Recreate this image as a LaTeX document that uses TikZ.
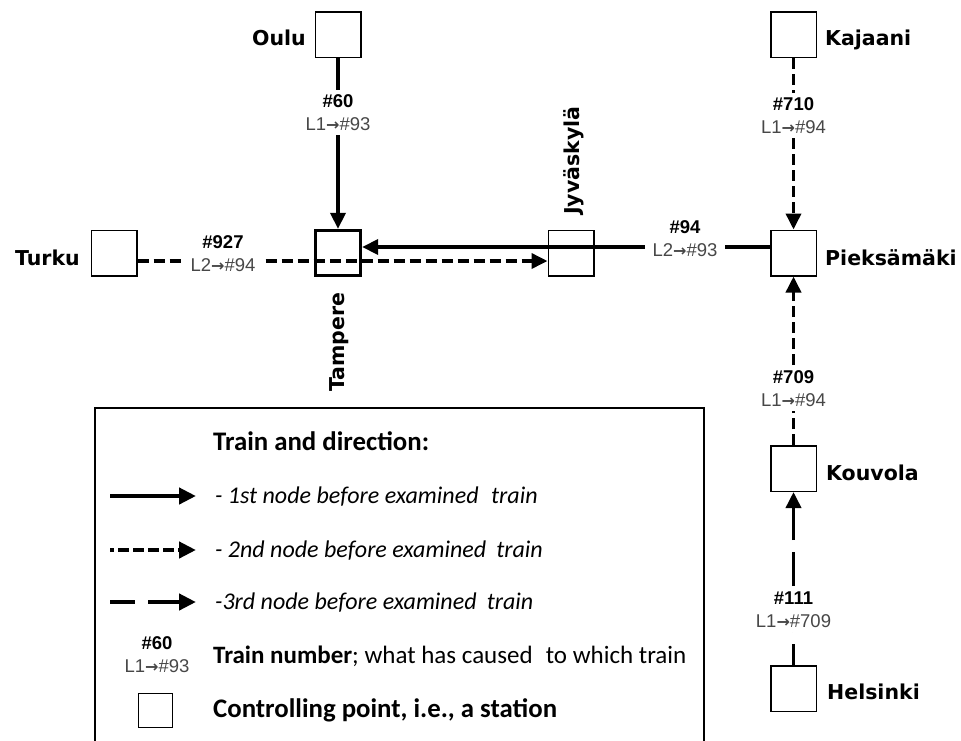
\documentclass[tikz,border=0pt]{standalone}
\usepackage{fontspec}
\setmainfont{Carlito}
\newfontfamily\stationfont{DejaVu Sans}
\newfontfamily\trainfont{Liberation Sans}
\usetikzlibrary{arrows.meta}
\tikzset{
  stn/.style={draw, line width=1.5pt, minimum size=45.5pt, inner sep=0pt, fill=white},
  stnthick/.style={stn, line width=3.3pt, minimum size=45pt},
  stnlabel/.style={font=\stationfont\bfseries\fontsize{20.5}{24}\selectfont, inner sep=0pt},
  trainlbl/.style={fill=white, align=center, inner xsep=8pt, inner ysep=4pt,
    font=\trainfont\fontsize{18.5}{23}\selectfont, text=black!72},
  trainline/.style={line width=3.6pt},
  arrowhd/.style={-{Triangle[length=16pt,width=15pt]}},
  dashtwo/.style={dash pattern=on 11pt off 5pt},
  dashthree/.style={dash pattern=on 34pt off 12pt, dash phase=13pt},
  legline/.style={line width=4.5pt, -{Triangle[length=17pt,width=16pt]}},
  legtext/.style={anchor=base west, inner sep=0pt, font=\fontsize{24}{28}\selectfont},
  legbold/.style={legtext, font=\bfseries\fontsize{26.8}{30}\selectfont},
}
\newcommand{\trn}[2]{{\bfseries\color{black}\##1}\\L#2}
\newcommand{\rarr}{{\stationfont\bfseries\fontsize{16}{20}\selectfont →}}
\begin{document}
\begin{tikzpicture}[x=1pt,y=-1pt]
\useasboundingbox (0,0) rectangle (961,740);

% stations
\node[stn] (oulu) at (338,34.5) {};
\node[stn] (kaj) at (793.5,34.5) {};
\node[stn] (turku) at (114,253) {};
\node[stn] (jyv) at (571,253) {};
\node[stn] (piek) at (793.5,253) {};
\node[stn] (kouv) at (793.5,468.5) {};
\node[stn] (hel) at (793.5,688.5) {};

% station names
\node[stnlabel, anchor=base east] (oulut) at (306,45) {Oulu};
\node[stnlabel, anchor=base west] (kajt) at (825,45) {Kajaani};
\node[stnlabel, anchor=base east] (turkut) at (80,265) {Turku};
\node[stnlabel, anchor=base west] (piekt) at (825,265) {Pieksämäki};
\node[stnlabel, anchor=base west] (kouvt) at (826,480) {Kouvola};
\node[stnlabel, anchor=base west] (helt) at (827,699) {Helsinki};
\node[stnlabel, anchor=base west, rotate=90] (tampt) at (344,392) {Tampere};
\node[stnlabel, anchor=base west, rotate=90] (jyvt) at (579,215) {Jyväskylä};

% connectors
\draw[trainline, dashtwo, arrowhd] ([yshift=-8pt]turku.east) -- ([yshift=-8pt]jyv.west);
\node[stnthick] (tamp) at (338,253) {};
\draw[trainline, dashtwo] ([yshift=-8pt]tamp.west) -- ([yshift=-8pt]tamp.east);
\draw[trainline, arrowhd] (oulu) -- (tamp);
\draw[trainline, arrowhd] ([yshift=6pt]piek.west) -- ([yshift=6pt]tamp.east);
\draw[trainline, dashtwo, arrowhd] (kaj) -- (piek);
\draw[trainline, dashtwo, arrowhd] (kouv) -- (piek);
\draw[trainline, dashthree, arrowhd] (hel) -- (kouv);

% train labels
\node[trainlbl] (l60) at (338,112.5) {\trn{60}{1\rarr\#93}};
\node[trainlbl] (l927) at (223,253.5) {\trn{927}{2\rarr\#94}};
\node[trainlbl] (l94) at (685,238.5) {\trn{94}{2\rarr\#93}};
\node[trainlbl] (l710) at (793.5,115.5) {\trn{710}{1\rarr\#94}};
\node[trainlbl] (l709) at (793.5,389) {\trn{709}{1\rarr\#94}};
\node[trainlbl] (l111) at (793.5,610) {\trn{111}{1\rarr\#709}};

% legend
\draw[line width=2.5pt] (95,742) -- (95,408) -- (704,408) -- (704,742);
\node[legbold] (legtitle) at (213,450) {Train and direction:};
\coordinate (a1s) at (110,496); \coordinate (a1e) at (196,496);
\coordinate (a2s) at (110,550); \coordinate (a2e) at (196,550);
\coordinate (a3s) at (110,602); \coordinate (a3e) at (196,602);
\draw[legline] (a1s) -- (a1e);
\draw[legline, dash pattern=on 11pt off 4pt, dash phase=7pt] (a2s) -- (a2e);
\draw[legline, dash pattern=on 25pt off 13pt on 60pt off 1pt] (a3s) -- (a3e);
\node[legtext] (leg1) at (215,503) {\itshape - 1st node before examined\hspace{0.3em} train};
\node[legtext] (leg2) at (215,557) {\itshape - 2nd node before examined\hspace{0.2em} train};
\node[legtext] (leg3) at (215,609) {\itshape -3rd node before examined\hspace{0.2em} train};
\node[trainlbl, fill=none] (leg60) at (157,655) {\trn{60}{1\rarr\#93}};
\node[legtext, font=\fontsize{25}{30}\selectfont] (leg4) at (213,663) {\textbf{Train number}; what has caused\hspace{0.3em} to which train};
\node[stn, minimum size=34pt] (legbox) at (155.5,710.5) {};
\node[legbold] (leg5) at (213,717) {Controlling point, i.e., a station};
\end{tikzpicture}
\end{document}
